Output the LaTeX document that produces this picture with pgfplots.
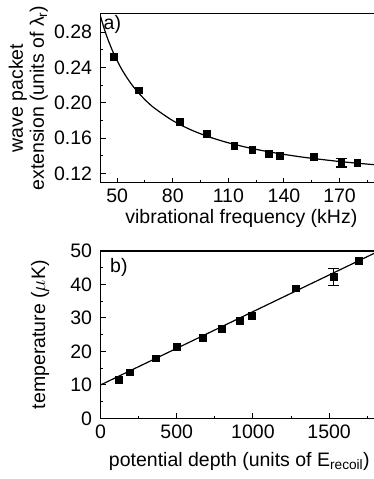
\documentclass[border=0pt]{standalone}
\usepackage{fontspec}
\setmainfont{Liberation Sans}
\usepackage{pgfplots}
\pgfplotsset{compat=1.18}
\newcommand\bigfont{\fontsize{19.5}{21}\selectfont}
\pgfplotsset{
  common/.style={
    scale only axis, width=281.7pt,
    axis line style={line width=1.5pt},
    tick style={line width=1pt, black},
    tick align=inside, xtick pos=bottom, ytick pos=left,
    major tick length=5pt, minor tick length=2.5pt,
    tick label style={font=\bigfont},
    label style={font=\bigfont},
    xticklabel style={yshift=-3pt},
    yticklabel style={xshift=-5pt},
    clip=true,
  },
  dots/.style={only marks, mark=square*, mark size=3.4pt, black},
  fit/.style={no marks, black, line width=1.2pt},
  ebar/.style={draw=none, mark=none, black,
    error bars/.cd, y dir=both, y explicit,
    error bar style={line width=1.2pt, black},
    error mark options={rotate=90, mark size=5.5pt, line width=1.2pt, black}},
}
\begin{document}
\begin{tikzpicture}[font=\bigfont]
% ---------------- panel a
\begin{axis}[common,
  at={(100.5pt,465.7pt)}, anchor=north west, height=169.4pt,
  xmin=41, xmax=193, ymin=0.1095, ymax=0.3015,
  xtick={50,80,110,140,170}, minor xtick={65,95,125,155,185},
  xticklabels={50,80,110,140,170},
  ytick={0.12,0.16,0.20,0.24,0.28}, minor ytick={0.14,0.18,0.22,0.26},
  yticklabels={0.12,0.16,0.20,0.24,0.28},
  xlabel={vibrational frequency (kHz)},
  xlabel style={at={(axis description cs:0.5,0)}, anchor=base, yshift=-41.3pt},
  ylabel={wave packet\\extension (units of λ\textsubscript{r})},
  ylabel style={at={(axis description cs:-0.256,0.5)}, anchor=center, align=center},
]
\addplot[fit, smooth] coordinates {
(41,0.2981) (43,0.2841) (45,0.2719) (48,0.2565) (52,0.2397) (56,0.2262)
(60,0.2150) (65,0.2036) (70,0.1942) (80,0.1798) (90,0.1692) (100,0.1611)
(110,0.1547) (120,0.1495) (130,0.1452) (140,0.1416) (150,0.1385)
(160,0.1359) (170,0.1335) (180,0.1315) (190,0.1297) (200,0.1281)};
\addplot[ebar] coordinates {(170.9,0.1323) +- (0,0.005)};
\addplot[dots] coordinates {
(48.2,0.252) (61.5,0.2144) (83.6,0.1784) (98.2,0.1652) (113.1,0.1511)
(122.9,0.1466) (131.8,0.1420) (137.9,0.1402) (155.9,0.1386)
(170.9,0.1323) (179.5,0.1323)};
\node[anchor=north west, inner sep=0pt, font=\bigfont] at (axis description cs:0,1) [xshift=3pt, yshift=-2pt] {a)};
\end{axis}
% ---------------- panel b
\begin{axis}[common,
  at={(100.5pt,228pt)}, anchor=north west, height=167.5pt,
  xmin=0, xmax=1848, ymin=0, ymax=50,
  xtick={0,500,1000,1500}, minor xtick={250,750,1250,1750},
  xticklabels={0,500,1000,1500},
  ytick={0,10,20,30,40,50}, minor ytick={5,15,25,35,45},
  yticklabels={0,10,20,30,40,50},
  xlabel={potential depth (units of E\textsubscript{recoil})},
  xlabel style={at={(axis description cs:0.5,0)}, anchor=base, yshift=-48pt, xshift=-2pt},
  ylabel={temperature ($\mu$K)},
  ylabel style={at={(axis description cs:-0.2146,0.5)}, anchor=center},
]
\addplot[fit] coordinates {(0,10) (1900,51.6)};
\addplot[ebar] coordinates {(1528,42.3) +- (0,2.5)};
\addplot[dots] coordinates {
(117,11.7) (194,13.8) (364,18.0) (500,21.4) (670,24.1) (795,26.9)
(911,29.3) (992,30.6) (1278,38.9) (1528,42.3) (1692,47.1)};
\node[anchor=north west, inner sep=0pt, font=\bigfont] at (axis description cs:0,1) [xshift=9.5pt, yshift=-7pt] {b)};
\end{axis}
\pgfresetboundingbox
\path[use as bounding box] (0pt,0pt) rectangle (374pt,479pt);
\end{tikzpicture}
\end{document}
